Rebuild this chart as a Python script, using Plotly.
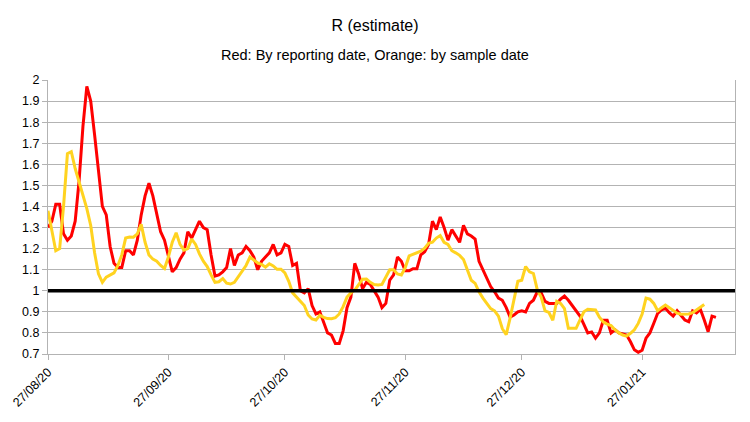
import pandas as pd
import plotly.graph_objects as go

start_date = "2020-08-27"
axis_end = "2021-02-19 22:00"

red_values = [
    1.30, 1.33, 1.41, 1.41, 1.27, 1.24, 1.26, 1.33, 1.52, 1.78,
    1.97, 1.90, 1.74, 1.57, 1.40, 1.36, 1.21, 1.13, 1.11, 1.11,
    1.19, 1.19, 1.17, 1.24, 1.36, 1.45, 1.51, 1.45, 1.37, 1.28,
    1.24, 1.16, 1.09, 1.11, 1.15, 1.18, 1.28, 1.25, 1.29, 1.33,
    1.30, 1.29, 1.17, 1.07, 1.075, 1.09, 1.11, 1.20, 1.12, 1.17,
    1.18, 1.21, 1.19, 1.16, 1.10, 1.14, 1.16, 1.18, 1.22, 1.17,
    1.18, 1.22, 1.21, 1.12, 1.13, 1.00, 0.99, 1.01, 0.93, 0.89,
    0.90, 0.85, 0.80, 0.79, 0.75, 0.75, 0.81, 0.92, 0.97, 1.13,
    1.08, 1.01, 1.04, 1.03, 1.00, 0.97, 0.92, 0.94, 1.05, 1.075,
    1.16, 1.14, 1.095, 1.095, 1.105, 1.105, 1.17, 1.185, 1.22, 1.33,
    1.29, 1.35, 1.30, 1.24, 1.29, 1.26, 1.23, 1.31, 1.27, 1.26,
    1.245, 1.14, 1.10, 1.055, 1.02, 0.995, 0.965, 0.955, 0.92, 0.875,
    0.885, 0.90, 0.905, 0.90, 0.94, 0.955, 0.995, 0.99, 0.95, 0.94,
    0.94, 0.94, 0.96, 0.975, 0.955, 0.93, 0.91, 0.88, 0.84, 0.80,
    0.805, 0.775, 0.80, 0.86, 0.86, 0.80, 0.815, 0.80, 0.795, 0.79,
    0.758, 0.72, 0.708, 0.718, 0.775, 0.80, 0.846, 0.893, 0.909, 0.917,
    0.896, 0.88, 0.905, 0.88, 0.861, 0.853, 0.905, 0.895, 0.912, 0.861,
    0.806, 0.88, 0.874,
]

orange_values = [
    1.38, 1.29, 1.19, 1.20, 1.40, 1.65, 1.66, 1.58, 1.52, 1.46,
    1.39, 1.31, 1.18, 1.08, 1.04, 1.065, 1.075, 1.085, 1.12, 1.17,
    1.25, 1.255, 1.254, 1.27, 1.315, 1.23, 1.17, 1.15, 1.14, 1.12,
    1.106, 1.16, 1.23, 1.275, 1.22, 1.193, 1.20, 1.245, 1.22, 1.175,
    1.14, 1.115, 1.075, 1.04, 1.043, 1.058, 1.036, 1.032, 1.04, 1.065,
    1.09, 1.12, 1.16, 1.148, 1.132, 1.125, 1.112, 1.128, 1.118, 1.102,
    1.102, 1.085, 1.045, 0.99, 0.97, 0.945, 0.93, 0.885, 0.866, 0.861,
    0.884, 0.874, 0.868, 0.867, 0.872, 0.89, 0.925, 0.97, 0.99, 1.003,
    1.03, 1.055, 1.056, 1.04, 1.03, 1.027, 1.03, 1.065, 1.10, 1.10,
    1.08, 1.075, 1.11, 1.165, 1.172, 1.18, 1.188, 1.202, 1.225, 1.23,
    1.25, 1.262, 1.23, 1.22, 1.19, 1.18, 1.168, 1.148, 1.10, 1.05,
    1.035, 0.995, 0.965, 0.94, 0.915, 0.905, 0.88, 0.82, 0.792, 0.87,
    0.95, 1.045, 1.05, 1.115, 1.09, 1.082, 1.005, 0.97, 0.905, 0.897,
    0.86, 0.95, 0.94, 0.915, 0.822, 0.822, 0.822, 0.862, 0.90, 0.912,
    0.912, 0.909, 0.875, 0.852, 0.842, 0.835, 0.815, 0.80, 0.79, 0.785,
    0.798, 0.815, 0.845, 0.89, 0.965, 0.96, 0.94, 0.905, 0.92, 0.932,
    0.92, 0.908, 0.894, 0.889, 0.888, 0.89, 0.896, 0.91, 0.925, 0.935,
]

threshold = 1.0
tick_dates = ["2020-08-27", "2020-09-27", "2020-10-27", "2020-11-27", "2020-12-27", "2021-01-27"]
tick_labels = ["27/08/20", "27/09/20", "27/10/20", "27/11/20", "27/12/20", "27/01/21"]
y_ticks = [0.7, 0.8, 0.9, 1, 1.1, 1.2, 1.3, 1.4, 1.5, 1.6, 1.7, 1.8, 1.9, 2]
y_labels = ["0.7", "0.8", "0.9", "1", "1.1", "1.2", "1.3", "1.4", "1.5", "1.6", "1.7", "1.8", "1.9", "2"]

red_dates = pd.date_range(start_date, periods=len(red_values), freq="D")
orange_dates = pd.date_range(start_date, periods=len(orange_values), freq="D")

FONT = "Liberation Sans, Arial, sans-serif"
GRID = "#b3b3b3"

# page body has an 8px margin, so the figure is 742x414 inside a 750x422 window
W, H = 742, 414
ML, MR, MT, MB = 40, 15, 72, 68
plot_w = W - ML - MR
center_x = 367  # horizontal centre of the titles in figure pixels

fig = go.Figure()
fig.add_trace(go.Scatter(x=red_dates, y=red_values, mode="lines",
                         line=dict(color="#ff0000", width=3), name="By reporting date"))
fig.add_trace(go.Scatter(x=orange_dates, y=orange_values, mode="lines",
                         line=dict(color="#ffd320", width=3), name="By sample date"))
fig.add_trace(go.Scatter(x=[pd.Timestamp(start_date), pd.Timestamp(axis_end)], y=[threshold, threshold],
                         mode="lines", line=dict(color="#000000", width=3.5), name="R = 1"))

fig.update_layout(
    width=W, height=H,
    margin=dict(l=ML, r=MR, t=MT, b=MB),
    paper_bgcolor="white", plot_bgcolor="white",
    showlegend=False,
    font=dict(family=FONT, color="#000000"),
    title=dict(text="R (estimate)", x=center_x / W, xanchor="center", y=1 - 17 / H, yanchor="middle",
               xref="container", yref="container", font=dict(size=16, family=FONT, color="#000000")),
    annotations=[dict(text="Red: By reporting date, Orange: by sample date", xref="paper", yref="paper",
                      x=(center_x - ML) / plot_w, y=(354 - 55) / 274, xanchor="center", yanchor="middle",
                      showarrow=False, font=dict(size=14.5, family=FONT, color="#000000"))],
)
fig.update_xaxes(
    type="date", range=[start_date, axis_end], automargin=False,
    tickvals=tick_dates, ticktext=tick_labels, tickangle=-45,
    tickfont=dict(size=12.5, family=FONT, color="#000000"),
    showgrid=False, zeroline=False,
    showline=True, linecolor=GRID, linewidth=1,
    ticks="outside", ticklen=5, tickcolor=GRID,
)
fig.update_yaxes(
    range=[0.7, 2.0], tickvals=y_ticks, ticktext=y_labels, automargin=False,
    tickfont=dict(size=12.5, family=FONT, color="#000000"),
    showgrid=True, gridcolor=GRID, gridwidth=1, zeroline=False,
    showline=True, linecolor=GRID, linewidth=1, mirror=True,
    ticks="outside", ticklen=5, tickcolor=GRID,
)

fig.write_html("out.html")
